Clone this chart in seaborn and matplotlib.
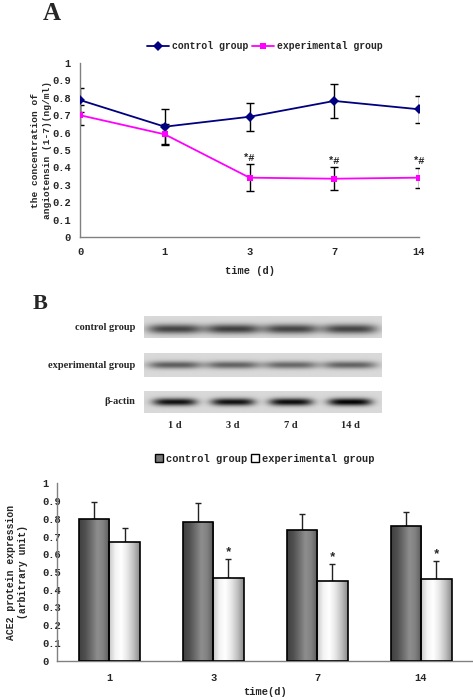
import numpy as np
import pandas as pd
import seaborn as sns
import matplotlib.pyplot as plt
from matplotlib.patches import Patch
from matplotlib.colors import LinearSegmentedColormap

sns.set_style('white')
plt.rcParams['font.family'] = ['Liberation Mono', 'DejaVu Sans']
plt.rcParams['font.weight'] = 'bold'

# ---- data, panel A (angiotensin 1-7) ----
days_a = ['0', '1', '3', '7', '14']
ctrl_a = [0.787, 0.634, 0.691, 0.782, 0.734]
ctrl_a_err = [0.067, 0.100, 0.080, 0.100, 0.078]
exp_a = [0.700, 0.590, 0.341, 0.335, 0.341]
exp_a_err = [0.058, 0.060, 0.079, 0.067, 0.058]
mark_a = ['', '', '*#', '*#', '*#']

# ---- data, panel B blot ----
blot_rows = ['control group', 'experimental group', 'β-actin']
lanes = ['1 d', '3 d', '7 d', '14 d']
lane_x = [175, 233, 291, 350]
band_strength = [[0.58, 0.60, 0.58, 0.58],
                 [0.48, 0.46, 0.44, 0.46],
                 [0.78, 0.78, 0.80, 0.84]]

# ---- data, panel B bars (ACE2) ----
days_b = ['1', '3', '7', '14']
ctrl_b = [0.800, 0.780, 0.737, 0.758]
ctrl_b_err = [0.097, 0.110, 0.090, 0.080]
exp_b = [0.669, 0.466, 0.449, 0.459]
exp_b_err = [0.081, 0.106, 0.098, 0.103]
mark_b = ['', '*', '*', '*']

groups = ['control group', 'experimental group']
W, H = 473, 700
fig = plt.figure(figsize=(W / 100, H / 100), dpi=100)

serif = 'Liberation Serif'
grey = '#808080'

# ================= panel A =================
df_a = pd.DataFrame({
    'day': days_a * 2,
    'value': ctrl_a + exp_a,
    'group': [groups[0]] * 5 + [groups[1]] * 5,
})
ax = fig.add_axes([80 / W, 1 - 237 / H, 339 / W, 174 / H])
sns.lineplot(data=df_a, x='day', y='value', hue='group', style='group',
             markers={groups[0]: 'D', groups[1]: 's'}, dashes=False,
             palette={groups[0]: '#000080', groups[1]: '#ff00ff'},
             markersize=5, linewidth=1.3, markeredgewidth=0,
             errorbar=None, ax=ax, zorder=3)
ax.errorbar(days_a, ctrl_a, yerr=ctrl_a_err, fmt='none', ecolor='black',
            elinewidth=1, capsize=2.8, capthick=1, zorder=2)
ax.errorbar(days_a, exp_a, yerr=exp_a_err, fmt='none', ecolor='black',
            elinewidth=1, capsize=2.8, capthick=1, zorder=2)
for i, m in enumerate(mark_a):
    if m:
        ax.text(i, exp_a[i] + exp_a_err[i] + 0.008, m, ha='center', va='bottom',
                fontsize=7.5, fontweight='bold')
ax.set_xlim(0, 4)
ax.set_ylim(0, 1)
ax.set_yticks(np.arange(0, 1.01, 0.1))
ax.set_yticklabels(['0'] + ['%.1f' % v for v in np.arange(0.1, 0.95, 0.1)] + ['1'])
ax.tick_params(axis='y', direction='inout', length=5, width=1, color=grey,
               labelsize=7.5, pad=4)
ax.tick_params(axis='x', direction='in', length=3, width=1, color=grey,
               labelsize=7.5, pad=7)
for s in ['top', 'right']:
    ax.spines[s].set_visible(False)
for s in ['left', 'bottom']:
    ax.spines[s].set_color(grey)
    ax.spines[s].set_linewidth(1)
ax.set_xlabel('time (d)', fontsize=7.5, fontweight='bold', labelpad=7)
ax.set_ylabel('the concentration of\nangiotensin (1-7)(ng/ml)', fontsize=6.8,
              fontweight='bold', linespacing=1.4)
ax.yaxis.set_label_coords(-0.083, 0.5)
h, l = ax.get_legend_handles_labels()
ax.legend(h, l, loc='center', bbox_to_anchor=(0.56, 1 - 46 / H),
          bbox_transform=fig.transFigure, ncol=2, frameon=False, fontsize=7,
          handlelength=2.3, handletextpad=0.3, columnspacing=0.3)

# ================= panel B blot =================
axbl = fig.add_axes([144 / W, 1 - 413 / H, 238 / W, 97 / H])
axbl.set_xlim(144, 382)
axbl.set_ylim(413, 316)
axbl.axis('off')
strips = [(316, 338, 329, 4.8, 27.5), (353, 377, 365, 3.8, 27), (391, 413, 402, 3.8, 22)]
xs = np.arange(144, 382) + 0.5
for (top, bot, yc, sy, hw), strength, name in zip(strips, band_strength, blot_rows):
    ys = np.arange(top, bot) + 0.5
    img = np.full((len(ys), len(xs)), 0.85)
    pv = np.exp(-((ys - yc) / sy) ** 2)[:, None]
    for c, st in zip(lane_x, strength):
        ph = np.exp(-(np.abs(xs - c) / hw) ** 4)[None, :]
        img -= st * pv * ph
    axbl.imshow(img, cmap='gray', vmin=0, vmax=1, aspect='auto',
                extent=(144, 382, bot, top), interpolation='bilinear')
    axbl.text(135, (top + bot) / 2, name, ha='right', va='center', fontsize=7.5,
              family=serif, fontweight='bold', clip_on=False)
for c, lab in zip(lane_x, lanes):
    axbl.text(c, 425, lab, ha='center', va='center', fontsize=7.5,
              family=serif, fontweight='bold', clip_on=False)

# ================= panel B bars =================
df_b = pd.DataFrame({
    'day': days_b * 2,
    'value': ctrl_b + exp_b,
    'group': [groups[0]] * 4 + [groups[1]] * 4,
})
axb = fig.add_axes([57.3 / W, 1 - 660.7 / H, (W - 57.3) / W, 177.4 / H])
sns.barplot(data=df_b, x='day', y='value', hue='group', width=0.587, gap=0,
            palette={groups[0]: '#777777', groups[1]: '#eeeeee'},
            edgecolor='black', linewidth=1.2, errorbar=None, legend=False,
            ax=axb, zorder=3)
cmaps = [
    LinearSegmentedColormap.from_list('c', ['#404040', '#505050', '#6e6e6e', '#8e8e8e', '#808080', '#585858']),
    LinearSegmentedColormap.from_list('e', ['#c8c8c8', '#f4f4f4', '#ffffff', '#e6e6e6', '#c0c0c0', '#8c8c8c']),
]
grad = np.linspace(0, 1, 64)[None, :]
errs = [ctrl_b_err, exp_b_err]
bar_conts = list(axb.containers)
for k, cont in enumerate(bar_conts):
    centers = []
    heights = []
    for bar in cont:
        x0, w, hgt = bar.get_x(), bar.get_width(), bar.get_height()
        im = axb.imshow(grad, cmap=cmaps[k], vmin=0, vmax=1, aspect='auto',
                        extent=(x0, x0 + w, 0, hgt), zorder=2.5,
                        interpolation='bilinear')
        im.set_clip_path(bar)
        bar.set_facecolor('none')
        centers.append(x0 + w / 2)
        heights.append(hgt)
    axb.errorbar(centers, heights, yerr=[np.zeros(4), errs[k]], fmt='none',
                 ecolor='#222222', elinewidth=1, capsize=2.3, capthick=1, zorder=2)
    if k == 1:
        for c, hgt, e, m in zip(centers, heights, errs[k], mark_b):
            if m:
                axb.text(c, hgt + e + 0.005, m, ha='center', va='bottom',
                         fontsize=9, fontweight='bold')
axb.set_xlim(-0.5, 3.5)
axb.set_ylim(0, 1)
axb.set_yticks(np.arange(0, 1.01, 0.1))
axb.set_yticklabels(['0'] + ['%.1f' % v for v in np.arange(0.1, 0.95, 0.1)] + ['1'])
for t in axb.get_yticklabels():
    t.set_ha('left')
axb.tick_params(axis='y', direction='out', length=2, width=1, color=grey,
                labelsize=7.5, pad=8.5)
axb.tick_params(axis='x', which='major', length=0, labelsize=7.5, pad=9)
axb.set_xticks([0.5, 1.5, 2.5], minor=True)
axb.tick_params(axis='x', which='minor', direction='out', length=3, width=1, color=grey)
for s in ['top', 'right']:
    axb.spines[s].set_visible(False)
for s in ['left', 'bottom']:
    axb.spines[s].set_color(grey)
    axb.spines[s].set_linewidth(1)
axb.set_xlabel('time(d)', fontsize=7.5, fontweight='bold', labelpad=3)
axb.set_ylabel('ACE2 protein expression\n(arbitrary unit)', fontsize=7,
               fontweight='bold', linespacing=1.3)
axb.yaxis.set_label_coords(-0.07, 0.5)
handles = [Patch(facecolor='#777777', edgecolor='black', linewidth=1),
           Patch(facecolor='white', edgecolor='black', linewidth=1)]
fig.legend(handles, groups, loc='center', bbox_to_anchor=(0.56, 1 - 459 / H),
           ncol=2, frameon=False, fontsize=7.5, handlelength=0.8,
           handleheight=0.8, handletextpad=0.3, columnspacing=0.3)

# panel letters
fig.text(52 / W, 1 - 20 / H, 'A', ha='center', va='baseline', fontsize=18,
         family=serif, fontweight='bold')
fig.text(40 / W, 1 - 309 / H, 'B', ha='center', va='baseline', fontsize=16,
         family=serif, fontweight='bold')

fig.savefig('out.png', dpi=100)
